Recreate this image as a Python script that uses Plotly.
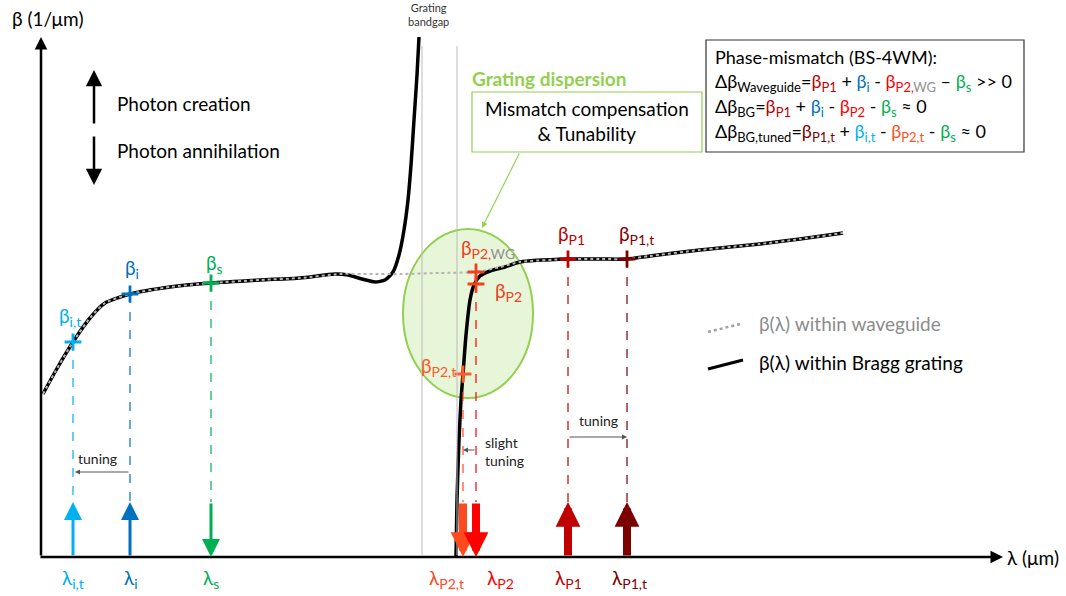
import plotly.graph_objects as go

# ---------------- data (arbitrary units: lambda -> x, beta -> y) ----------------
wg_lambda = [2, 14, 32, 49, 64, 89, 129, 170, 219, 259, 299, 329, 359, 399, 435, 459, 479, 527, 559, 586, 609, 659, 719, 759, 802]
wg_beta   = [163, 185, 215, 239, 254, 263, 270, 274, 277, 279, 283, 283, 283, 284, 285, 290, 295, 298, 298, 298, 301, 307, 313, 318, 324]

bg_left_lambda = [2, 14, 32, 49, 64, 89, 129, 170, 219, 259, 294, 307, 321, 334, 344, 352, 358, 363, 367, 370, 373, 376, 378]
bg_left_beta   = [163, 185, 215, 239, 254, 263, 270, 274, 277, 279, 283, 282, 278, 275, 277, 285, 302, 327, 357, 392, 437, 482, 520]

bg_right_lambda = [415, 416, 418, 420, 422, 425, 429, 433, 439, 449, 464, 479, 527, 559, 586, 609, 659, 719, 759, 802]
bg_right_beta   = [1, 57, 117, 157, 183, 222, 257, 272, 281, 286, 290, 295, 298, 298, 298, 301, 307, 313, 318, 324]

point_names  = ["i,t", "i", "s", "P2,WG", "P2", "P2,t", "P1", "P1,t"]
point_lambda = [32, 89, 170, 435, 435, 422, 527, 586]
point_beta   = [215, 263, 274, 285, 273, 183, 298, 298]
point_colors = ["#00B0F0", "#0070C0", "#00B050", "#F0401E", "#F0401E", "#FF5A28", "#C00000", "#800000"]

# wave arrows at the bottom (lambda positions)
wave_names   = ["i,t", "i", "s", "P2,t", "P2", "P1", "P1,t"]
wave_lambda  = [32, 89, 170, 422, 435, 527, 586]
wave_beta_top = [215, 263, 274, 183, 273, 298, 298]
wave_dir     = ["up", "up", "down", "down", "down", "up", "up"]
wave_thick   = [False, False, False, True, True, True, True]
wave_colors  = ["#00B0F0", "#0070C0", "#00B050", "#FF4A1E", "#FF0000", "#C00000", "#7B0000"]
arrow_len = 55

FONT = "Lato"
FS = 19      # main text size
SUB = 14     # subscript size

def sub(t, size=SUB):
    return f"<sub><span style='font-size:{size}px'>{t}</span></sub>"

fig = go.Figure()

# Bragg grating curve (black) and waveguide (gray dotted)
for lx, by in [(bg_left_lambda, bg_left_beta), (bg_right_lambda, bg_right_beta)]:
    fig.add_trace(go.Scatter(x=lx, y=by, mode="lines", line=dict(color="black", width=3.5, shape="spline", smoothing=0.6),
                             hoverinfo="skip", showlegend=False))
fig.add_trace(go.Scatter(x=wg_lambda, y=wg_beta, mode="lines", line=dict(color="#B4B4B4", width=2, dash="dot", shape="spline", smoothing=0.6),
                         hoverinfo="skip", showlegend=False))

# vertical dashed drop lines
for lam, top, col in zip(wave_lambda, wave_beta_top, wave_colors):
    fig.add_trace(go.Scatter(x=[lam, lam], y=[top, arrow_len], mode="lines",
                             line=dict(color=col, width=1.2, dash="dash"), hoverinfo="skip", showlegend=False))

# markers
fig.add_trace(go.Scatter(x=point_lambda, y=point_beta, mode="markers",
                         marker=dict(symbol="cross-thin", size=12, line=dict(width=2.8, color=point_colors)),
                         hoverinfo="skip", showlegend=False))

ann = []
shapes = []

def A(**kw):
    d = dict(showarrow=False, font=dict(family=FONT, size=FS, color="black"))
    d.update(kw)
    ann.append(d)

def arrow(x, y, ax, ay, col, width, size, head=2):
    ann.append(dict(x=x, y=y, ax=ax, ay=ay, xref="x", yref="y", axref="x", ayref="y", text="", showarrow=True,
                    arrowhead=head, arrowsize=size, arrowwidth=width, arrowcolor=col, standoff=0))

# axes
arrow(0, 520, 0, 0, "black", 2.5, 1)
arrow(962, 0, -2, 0, "black", 2.5, 1)
A(x=-31, y=539, text="β (1/μm)", xanchor="left", yanchor="middle")
A(x=964, y=0, text="λ (μm)", xanchor="left", yanchor="middle")

# photon creation/annihilation
arrow(53, 487, 53, 432, "black", 2.5, 1.3)
arrow(53, 372, 53, 422, "black", 2.5, 1.3)
A(x=74, y=454, text="Photon creation", xanchor="left")
A(x=74, y=407, text="Photon annihilation", xanchor="left")

# bottom wave arrows
for lam, d, thick, col in zip(wave_lambda, wave_dir, wave_thick, wave_colors):
    if d == "up":
        y, ay = arrow_len, 0
    else:
        y, ay = 0, arrow_len
    arrow(lam, y, lam, ay, col, 8 if thick else 3, 0.62 if thick else 1.2)

# bottom labels
lab_offsets = {"i,t": 0, "i": 1, "s": 0, "P2,t": -17, "P2": 24, "P1": 0, "P1,t": 2}
for name, lam, col in zip(wave_names, wave_lambda, wave_colors):
    A(x=lam + lab_offsets[name], y=-22, text="λ" + sub(name), font=dict(family=FONT, size=FS, color=col))

# beta labels
beta_lab = {
    "i,t": (29, 240), "i": (91, 288), "s": (173, 293), "P2,WG": (447, 308),
    "P2": (467, 265), "P2,t": (397, 190), "P1": (530, 322), "P1,t": (595, 322),
}
for name, col in zip(point_names, point_colors):
    x, y = beta_lab[name]
    if name == "P2,WG":
        txt = "β" + sub("P2,<span style='color:#909090'>WG</span>")
    else:
        txt = "β" + sub(name)
    A(x=x, y=y, text=txt, font=dict(family=FONT, size=FS, color=col))

# tuning annotations
TS = 14
arrow(34, 85, 89, 85, "#555555", 1, 1)
A(x=56, y=99, text="tuning", font=dict(family=FONT, size=TS, color="#222222"))
arrow(586, 120, 527, 120, "#555555", 1, 1)
A(x=557, y=137, text="tuning", font=dict(family=FONT, size=TS, color="#222222"))
arrow(422, 107, 435, 107, "#555555", 1, 1)
A(x=442, y=106, text="slight<br>tuning", xanchor="left", align="left", font=dict(family=FONT, size=TS, color="#222222"))

# grating bandgap
shapes.append(dict(type="line", x0=381, x1=381, y0=2, y1=511, xref="x", yref="y", line=dict(color="#BBBBBB", width=1)))
shapes.append(dict(type="line", x0=416, x1=416, y0=2, y1=511, xref="x", yref="y", line=dict(color="#BBBBBB", width=1)))
A(x=387, y=543, text="Grating<br>bandgap", font=dict(family=FONT, size=11, color="#333333"))

# ellipse (grating dispersion region)
shapes.append(dict(type="circle", x0=362, x1=492, y0=159, y1=328, xref="x", yref="y", layer="below",
                   fillcolor="rgba(146,208,80,0.22)", line=dict(color="#92D050", width=2)))
A(x=508, y=479, text="<b>Grating dispersion</b>", font=dict(family=FONT, size=FS, color="#92D050"))
shapes.append(dict(type="rect", x0=431, x1=661, y0=405, y1=465, xref="x", yref="y",
                   fillcolor="white", line=dict(color="#92D050", width=1.2)))
A(x=546, y=436, text="Mismatch compensation<br>& Tunability", font=dict(family=FONT, size=FS, color="black"))
arrow(441, 329, 479, 405, "#92D050", 1.2, 1)

# phase mismatch box
shapes.append(dict(type="rect", x0=665, x1=983, y0=405, y1=517, xref="x", yref="y",
                   fillcolor="white", line=dict(color="#333333", width=1.2)))
R1, R2, B, G, O, DR, LB = "#C00000", "#FF0000", "#0070C0", "#00B050", "#FF5020", "#800000", "#00B0F0"
BS = 13
def c(t, col):
    return f"<span style='color:{col}'>{t}</span>"
def bsub(t):
    return sub(t, BS)
box_lines = [
    "Phase-mismatch (BS-4WM):",
    "Δβ" + bsub("Waveguide") + "=" + c("β" + bsub("P1"), R1) + " + " + c("β" + bsub("i"), B) + " - "
    + c("β" + bsub("P2,<span style='color:#909090'>WG</span>"), R2) + " – " + c("β" + bsub("s"), G) + " >> 0",
    "Δβ" + bsub("BG") + "=" + c("β" + bsub("P1"), R1) + " + " + c("β" + bsub("i"), B) + " - "
    + c("β" + bsub("P2"), R2) + " - " + c("β" + bsub("s"), G) + " ≈ 0",
    "Δβ" + bsub("BG,tuned") + "=" + c("β" + bsub("P1,t"), DR) + " + " + c("β" + bsub("i,t"), LB) + " - "
    + c("β" + bsub("P2,t"), O) + " - " + c("β" + bsub("s"), G) + " ≈ 0",
]
for i, t in enumerate(box_lines):
    A(x=672, y=500 - 25 * i, text=t, xanchor="left", font=dict(family=FONT, size=18, color="black"))

# legend
fig.add_trace(go.Scatter(x=[667, 699], y=[225, 233], mode="lines", line=dict(color="#A0A0A0", width=2.5, dash="dot"),
                         hoverinfo="skip", showlegend=False))
fig.add_trace(go.Scatter(x=[667, 702], y=[188, 197], mode="lines", line=dict(color="black", width=3),
                         hoverinfo="skip", showlegend=False))
A(x=716, y=234, text="β(λ) within waveguide", xanchor="left", font=dict(family=FONT, size=FS, color="#8C8C8C"))
A(x=716, y=195, text="β(λ) within Bragg grating", xanchor="left")

for a in ann:
    a.setdefault("xref", "x")
    a.setdefault("yref", "y")

fig.update_layout(
    width=1066, height=596, autosize=False,
    margin=dict(l=0, r=0, t=0, b=0),
    paper_bgcolor="white", plot_bgcolor="white",
    xaxis=dict(range=[-41, 1025], visible=False, fixedrange=True),
    yaxis=dict(range=[-39, 557], visible=False, fixedrange=True),
    annotations=ann, shapes=shapes, showlegend=False,
)

fig.write_html("out.html", config={"displayModeBar": False},
               post_script="document.body.style.margin='0px';")
